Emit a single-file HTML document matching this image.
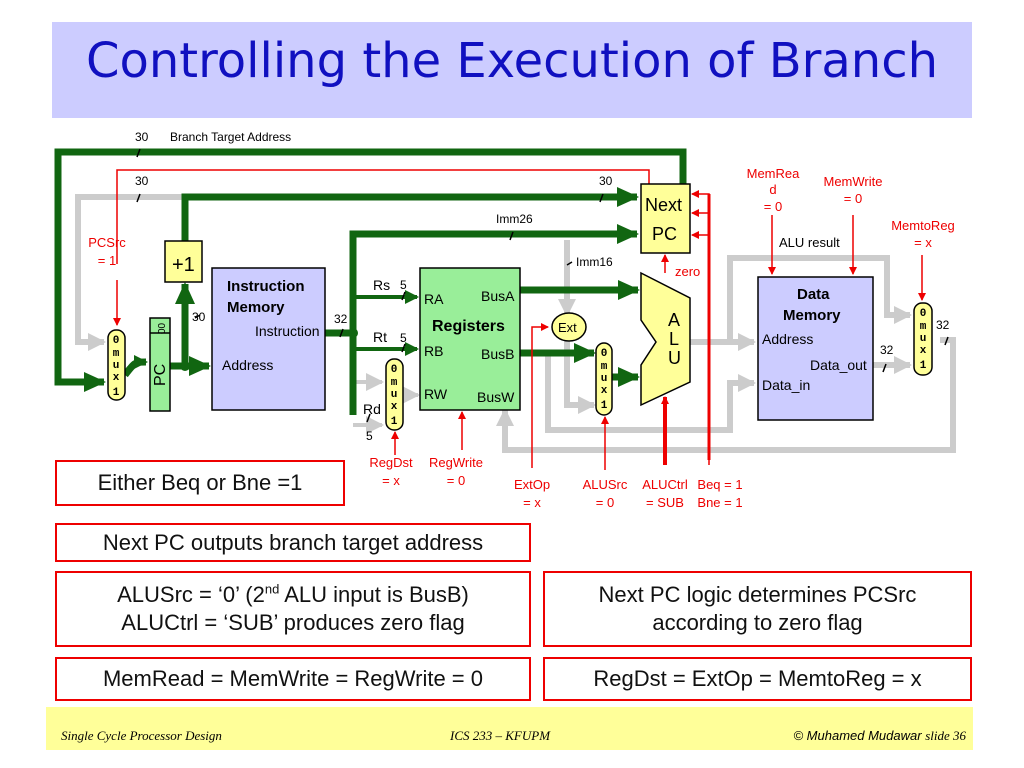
<!DOCTYPE html>
<html><head><meta charset="utf-8"><style>
body{margin:0;background:#fff;width:1024px;height:768px;overflow:hidden;font-family:"Liberation Sans",sans-serif}
.box{position:absolute;border:2px solid #e00;background:#fff;font-size:22px;color:#111;text-align:center;box-sizing:border-box;line-height:28px}
</style></head><body>
<div style="position:absolute;left:52px;top:22px;width:920px;height:96px;background:#ccccff"></div>
<div style="position:absolute;left:52px;top:33px;width:920px;text-align:center;font-size:48px;color:#1010c0;font-family:'DejaVu Sans','Liberation Sans',sans-serif">Controlling the Execution of Branch</div>
<svg width="1024" height="768" style="position:absolute;left:0;top:0" font-family="Liberation Sans, sans-serif">
<defs>
<marker id="ag" markerWidth="22" markerHeight="20" refX="20" refY="10" orient="auto" markerUnits="userSpaceOnUse"><path d="M0,0L22,10L0,20z" fill="#116611"/></marker>
<marker id="ags" markerWidth="14" markerHeight="14" refX="12" refY="7" orient="auto" markerUnits="userSpaceOnUse"><path d="M0,0L14,7L0,14z" fill="#116611"/></marker>
<marker id="ay" markerWidth="18" markerHeight="18" refX="16" refY="9" orient="auto" markerUnits="userSpaceOnUse"><path d="M0,0L18,9L0,18z" fill="#ccc"/></marker>
<marker id="ar" markerWidth="8" markerHeight="8" refX="7" refY="4" orient="auto" markerUnits="userSpaceOnUse"><path d="M0,0L8,4L0,8z" fill="#e00"/></marker>
</defs>
<g fill="none" stroke="#ccc" stroke-width="6">
<path d="M185,197H78V342H104" marker-end="url(#ay)"/>
<path d="M690,342H754" marker-end="url(#ay)"/>
<path d="M730,342V258H887V315H910" marker-end="url(#ay)"/>
<path d="M873,365H910" marker-end="url(#ay)"/>
<path d="M567,240V315" marker-end="url(#ay)"/>
<path d="M567,341V405H594" marker-end="url(#ay)"/>
<path d="M548,353V430H730V383H754" marker-end="url(#ay)"/>
<path d="M940,340H953V450H505V410" marker-end="url(#ay)"/>
<path d="M353,382H382" stroke-width="4" marker-end="url(#ay)"/>
<path d="M353,425H382" stroke-width="4" marker-end="url(#ay)"/>
<path d="M403,395H418" stroke-width="4" marker-end="url(#ay)"/>
</g>
<g fill="none" stroke="#116611" stroke-width="7">
<path d="M683,185V152H58V382H104" marker-end="url(#ag)"/>
<path d="M185,282V197H637" marker-end="url(#ag)"/>
<path d="M125,375C135,362 135,362 146,362" marker-end="url(#ags)"/>
<path d="M170,366H209" marker-end="url(#ag)"/>
<path d="M185,366V284" marker-end="url(#ag)"/>
<path d="M325,333H353M353,415V234H637" marker-end="url(#ag)"/>
<path d="M520,290H638" marker-end="url(#ag)"/>
<path d="M520,353H594" marker-end="url(#ag)"/>
<path d="M612,377H638" marker-end="url(#ag)"/>
<path d="M353,297H417" stroke-width="4" marker-end="url(#ags)"/>
<path d="M353,349H417" stroke-width="4" marker-end="url(#ags)"/>
</g>
<circle cx="185" cy="366" r="5" fill="#116611"/><circle cx="353" cy="333" r="5" fill="#116611"/>
<g fill="none" stroke="#e00" stroke-width="1.5">
<path d="M117,280V325" marker-end="url(#ar)"/>
<path d="M117,264V170H649V184"/>
<path d="M665,273V255" marker-end="url(#ar)"/>
<path d="M709,465V194H692" marker-end="url(#ar)"/>
<path d="M709,213H692" marker-end="url(#ar)"/>
<path d="M709,235H692" marker-end="url(#ar)"/>
<path d="M709,194V460" stroke-width="3"/>
<path d="M665,465V397" stroke-width="4" marker-end="url(#ar)"/>
<path d="M605,470V417" marker-end="url(#ar)"/>
<path d="M532,468V327H548" marker-end="url(#ar)"/>
<path d="M462,450V412" marker-end="url(#ar)"/>
<path d="M395,455V432" marker-end="url(#ar)"/>
<path d="M772,215V274" marker-end="url(#ar)"/>
<path d="M853,215V274" marker-end="url(#ar)"/>
<path d="M922,255V300" marker-end="url(#ar)"/>
</g>
<g stroke="#000" stroke-width="1.5">
<rect x="165" y="241" width="37" height="41" fill="#ffff99"/>
<rect x="150" y="318" width="20" height="93" fill="#99ee99"/><line x1="150" y1="333" x2="170" y2="333"/>
<rect x="212" y="268" width="113" height="142" fill="#ccccff"/>
<rect x="420" y="268" width="100" height="142" fill="#99ee99"/>
<rect x="641" y="184" width="49" height="69" fill="#ffff99"/>
<rect x="758" y="277" width="115" height="143" fill="#ccccff"/>
<path d="M641,273L690,298V382L641,405V365L656,342L641,320Z" fill="#ffff99"/>
<ellipse cx="569" cy="327" rx="17" ry="14" fill="#ffff99"/>
<rect x="108" y="330" width="17" height="70" rx="8" fill="#ffff99"/>
<rect x="386" y="359" width="17" height="71" rx="8" fill="#ffff99"/>
<rect x="596" y="343" width="16" height="72" rx="8" fill="#ffff99"/>
<rect x="914" y="303" width="18" height="72" rx="8" fill="#ffff99"/>
</g>
<g stroke="#000" stroke-width="1.5">
<path d="M137,157l3,-8M137,202l3,-8M600,202l3,-8M510,240l3,-8M340,337l3,-8M402,300l3,-8M402,352l3,-8M367,422l3,-8M883,372l3,-8M945,345l3,-8M195,318l5,-3M567,265l5,-3"/>
</g>
<g font-size="12" fill="#000">
<text x="135" y="141">30</text><text x="170" y="141">Branch Target Address</text>
<text x="135" y="185">30</text><text x="599" y="185">30</text>
<text x="496" y="223">Imm26</text><text x="576" y="266">Imm16</text>
<text x="192" y="321">30</text><text x="334" y="323">32</text>
<text x="400" y="289">5</text><text x="400" y="342">5</text><text x="366" y="440">5</text>
<text x="880" y="354">32</text><text x="936" y="329">32</text>
<text x="779" y="247" font-size="13">ALU result</text>
</g>
<g font-size="14" fill="#000">
<text x="172" y="271" font-size="20">+1</text>
<text x="227" y="291" font-weight="bold" font-size="15">Instruction</text>
<text x="227" y="312" font-weight="bold" font-size="15">Memory</text>
<text x="255" y="336">Instruction</text><text x="222" y="370">Address</text>
<text x="373" y="290">Rs</text><text x="373" y="342">Rt</text><text x="363" y="414">Rd</text>
<text x="424" y="304">RA</text><text x="481" y="301">BusA</text>
<text x="432" y="331" font-weight="bold" font-size="16">Registers</text>
<text x="424" y="356">RB</text><text x="481" y="359">BusB</text>
<text x="424" y="399">RW</text><text x="477" y="402">BusW</text>
<text x="645" y="211" font-size="18">Next</text><text x="652" y="240" font-size="18">PC</text>
<text x="558" y="332" font-size="13">Ext</text>
<text x="668" y="326" font-size="18">A</text><text x="669" y="345" font-size="18">L</text><text x="668" y="364" font-size="18">U</text>
<text x="797" y="299" font-weight="bold" font-size="15">Data</text>
<text x="783" y="320" font-weight="bold" font-size="15">Memory</text>
<text x="762" y="344">Address</text><text x="810" y="370">Data_out</text><text x="762" y="390">Data_in</text>
<text x="165" y="386" font-size="16" transform="rotate(-90 165 386)">PC</text>
<text x="165" y="334" font-size="10" transform="rotate(-90 165 334)">00</text>
</g>
<g font-family="Liberation Mono, monospace" font-size="11" font-weight="bold" fill="#000" text-anchor="middle">
<text x="116" y="343">0</text><text x="116" y="356">m</text><text x="116" y="368">u</text><text x="116" y="380">x</text><text x="116" y="395">1</text>
<text x="394" y="372">0</text><text x="394" y="385">m</text><text x="394" y="397">u</text><text x="394" y="409">x</text><text x="394" y="424">1</text>
<text x="604" y="356">0</text><text x="604" y="369">m</text><text x="604" y="381">u</text><text x="604" y="393">x</text><text x="604" y="408">1</text>
<text x="923" y="316">0</text><text x="923" y="329">m</text><text x="923" y="341">u</text><text x="923" y="353">x</text><text x="923" y="368">1</text>
</g>
<g font-size="13" fill="#e00" text-anchor="middle">
<text x="107" y="247">PCSrc</text><text x="107" y="265">= 1</text>
<text x="675" y="276" text-anchor="start">zero</text>
<text x="773" y="178">MemRea</text><text x="773" y="194">d</text><text x="773" y="211">= 0</text>
<text x="853" y="186">MemWrite</text><text x="853" y="203">= 0</text>
<text x="923" y="230">MemtoReg</text><text x="923" y="247">= x</text>
<text x="391" y="467">RegDst</text><text x="391" y="485">= x</text>
<text x="456" y="467">RegWrite</text><text x="456" y="485">= 0</text>
<text x="532" y="489">ExtOp</text><text x="532" y="507">= x</text>
<text x="605" y="489">ALUSrc</text><text x="605" y="507">= 0</text>
<text x="665" y="489">ALUCtrl</text><text x="665" y="507">= SUB</text>
<text x="720" y="489">Beq = 1</text><text x="720" y="507">Bne = 1</text>
</g>
</svg>
<div class="box" style="left:55px;top:460px;width:290px;height:46px;padding-top:7px">Either Beq or Bne =1</div>
<div class="box" style="left:55px;top:523px;width:476px;height:39px;padding-top:4px">Next PC outputs branch target address</div>
<div class="box" style="left:55px;top:571px;width:476px;height:76px;padding-top:8px">ALUSrc = ‘0’ (2<sup style="font-size:13px;line-height:0">nd</sup> ALU input is BusB)<br>ALUCtrl = ‘SUB’ produces zero flag</div>
<div class="box" style="left:543px;top:571px;width:429px;height:76px;padding-top:8px">Next PC logic determines PCSrc<br>according to zero flag</div>
<div class="box" style="left:55px;top:657px;width:476px;height:44px;padding-top:6px">MemRead = MemWrite = RegWrite = 0</div>
<div class="box" style="left:543px;top:657px;width:429px;height:44px;padding-top:6px">RegDst = ExtOp = MemtoReg = x</div>
<div style="position:absolute;left:46px;top:707px;width:927px;height:43px;background:#ffff99"></div>
<div style="position:absolute;left:61px;top:728px;font:italic 13px 'Liberation Serif',serif">Single Cycle Processor Design</div>
<div style="position:absolute;left:450px;top:728px;font:italic 13px 'Liberation Serif',serif">ICS 233 – KFUPM</div>
<div style="position:absolute;right:58px;top:728px;font:italic 13px 'Liberation Sans',sans-serif">© Muhamed Mudawar <span style="font-family:'Liberation Serif',serif">slide 36</span></div>
</body></html>
